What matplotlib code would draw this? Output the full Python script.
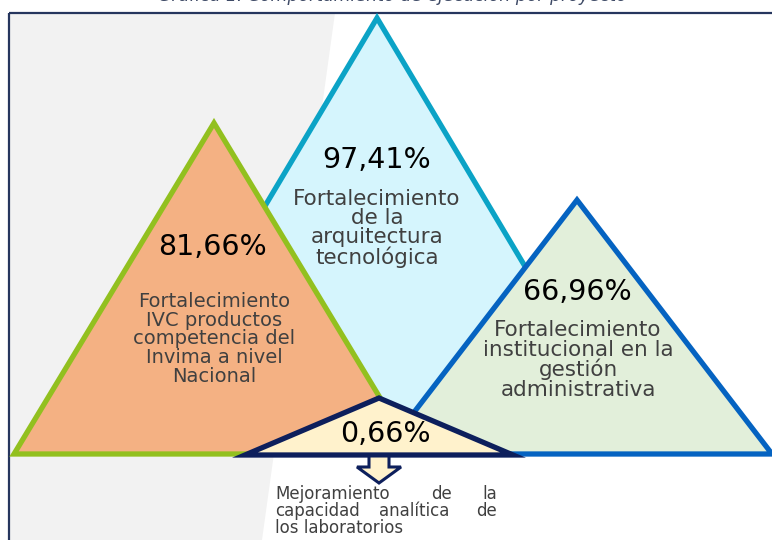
import matplotlib
matplotlib.use("Agg")
import matplotlib.pyplot as plt
from matplotlib.patches import Polygon, Rectangle

# Datos de la gráfica
titulo = "Gráfica 1. Comportamiento de ejecución por proyecto"
proyectos = [
    "Fortalecimiento\nde la\narquitectura\ntecnológica",
    "Fortalecimiento\nIVC productos\ncompetencia del\nInvima a nivel\nNacional",
    "Fortalecimiento\ninstitucional en la\ngestión\nadministrativa",
]
ejecucion = [97.41, 81.66, 66.96, 0.66]
proyecto_menor = [["Mejoramiento", "de", "la"],
                  ["capacidad", "analítica", "de"],
                  ["los laboratorios"]]

# Geometria (en pixeles) de cada triangulo: vertice, medio ancho de la base, base
vert_x = [377, 214, 577, 379]
vert_y = [18, 123, 200, 398]
medio_ancho = [258, 200, 195, 134]
base_y = [451, 454, 454, 455]
rellenos = ["#D5F5FD", "#F4B183", "#E2EFDA", "#FFF2CC"]
bordes = ["#0BA3C6", "#92C01F", "#0563C1", "#0D1F5C"]
# posiciones de textos
pct_pos = [(377, 160), (213, 247), (577, 292), (385, 434)]
desc_pos = [(377, 189), (214, 292), (578, 320)]
desc_size = [15.5, 14, 15.5]
desc_esp = [0.95, 0.98, 0.97]

fig = plt.figure(figsize=(7.72, 5.4), dpi=100)
ax = fig.add_axes([0, 0, 1, 1])
ax.set_xlim(0, 772)
ax.set_ylim(540, 0)
ax.axis("off")

# fondo gris a la izquierda y marco
ax.add_patch(Polygon([(9, 13), (335, 13), (262, 540), (9, 540)], closed=True,
                     facecolor="#F2F2F2", edgecolor="none", zorder=0))
ax.add_patch(Rectangle((9, 13), 800, 560, facecolor="none", edgecolor="#26365E",
                       lw=1.6, zorder=1))

# titulo (cortado por el borde superior, como en el original)
ax.text(392, -4, titulo, ha="center", va="center", fontsize=12.5, style="italic",
        color="#3E4A66", family="DejaVu Sans", zorder=1)

for i in range(4):
    pts = [(vert_x[i] - medio_ancho[i], base_y[i]), (vert_x[i], vert_y[i]),
           (vert_x[i] + medio_ancho[i], base_y[i])]
    ax.add_patch(Polygon(pts, closed=True, facecolor=rellenos[i], edgecolor=bordes[i],
                         lw=3.8, joinstyle="miter", zorder=2 + i))

for i, v in enumerate(ejecucion):
    etiqueta = f"{v:.2f}%".replace(".", ",")
    ax.text(pct_pos[i][0], pct_pos[i][1], etiqueta, ha="center", va="center",
            fontsize=20.5, color="black", family="DejaVu Sans", zorder=10)

for i, p in enumerate(proyectos):
    ax.text(desc_pos[i][0], desc_pos[i][1], p, ha="center", va="top",
            fontsize=desc_size[i], color="#404040", family="DejaVu Sans",
            linespacing=desc_esp[i], zorder=10)

# flecha hacia abajo
flecha = [(369, 456), (389, 456), (389, 467), (401, 467), (379, 483),
          (357, 467), (369, 467)]
ax.add_patch(Polygon(flecha, closed=True, facecolor="#FFF2CC", edgecolor="#0D1F5C",
                     lw=2.2, joinstyle="miter", zorder=6))

# texto justificado del proyecto menor
kw = dict(fontsize=12, color="#404040", family="DejaVu Sans", va="center", zorder=10)
lineas_y = [494, 511, 528]
x_izq, x_der = 275, 497
ax.text(x_izq, lineas_y[0], proyecto_menor[0][0], ha="left", **kw)
ax.text(441, lineas_y[0], proyecto_menor[0][1], ha="center", **kw)
ax.text(x_der, lineas_y[0], proyecto_menor[0][2], ha="right", **kw)
ax.text(x_izq, lineas_y[1], proyecto_menor[1][0], ha="left", **kw)
ax.text(414, lineas_y[1], proyecto_menor[1][1], ha="center", **kw)
ax.text(x_der, lineas_y[1], proyecto_menor[1][2], ha="right", **kw)
ax.text(x_izq, lineas_y[2], proyecto_menor[2][0], ha="left", **kw)

fig.savefig("out.png", dpi=100)
